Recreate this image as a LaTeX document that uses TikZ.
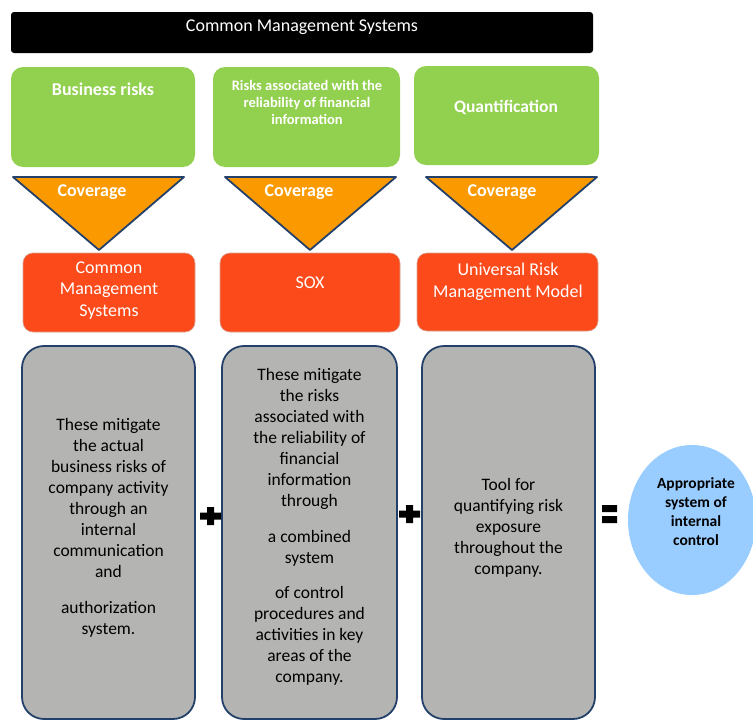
\documentclass[tikz,border=0pt]{standalone}
\usepackage{fontspec}
\setmainfont{Carlito}
\usepackage{xcolor}
\usepackage{tikz}
\definecolor{riskGreen}{HTML}{92D050}
\definecolor{riskOrange}{HTML}{FA9A00}
\definecolor{riskRed}{HTML}{FC4A1A}
\definecolor{riskRim}{HTML}{D9A293}
\definecolor{riskGray}{HTML}{B4B5B2}
\definecolor{riskNavy}{HTML}{23406A}
\definecolor{riskSky}{HTML}{99CCFF}
\newcommand{\fsz}[2]{\fontsize{#1}{#2}\selectfont}

\begin{document}
\begin{tikzpicture}[x=1pt,y=-1pt,
  greenbox/.style={fill=riskGreen, rounded corners=12pt},
  redbox/.style={fill=riskRed, draw=riskRim, line width=0.6pt, rounded corners=10pt},
  graybox/.style={fill=riskGray, draw=riskNavy, line width=1.8pt, rounded corners=22pt},
  funnel/.style={fill=riskOrange, draw=riskNavy, line width=1.8pt, line join=round},
  lbl/.style={align=center, inner sep=0pt},
  whitelbl/.style={lbl, text=white}]
\useasboundingbox (0,0) rectangle (753,720);

% title bar
\fill[black, rounded corners=3pt] (11,12) rectangle (593,53);
\node[whitelbl, font=\fsz{18}{22}] (title) at (302,27) {Common Management Systems};

% risk types
\fill[greenbox] (11,67) rectangle (195,167);
\fill[greenbox] (213,67) rectangle (400,167);
\fill[greenbox] (414,66) rectangle (599,165);
\node[whitelbl, font=\bfseries\fsz{18}{22}] (risk1) at (103,89) {Business risks};
\node[whitelbl, font=\bfseries\fsz{14.5}{17}] (risk2) at (307,102)
  {Risks associated with the\\reliability of financial\\information};
\node[whitelbl, font=\bfseries\fsz{17.5}{21}] (risk3) at (506,107) {Quantification};

% coverage funnels
\foreach \l/\r/\a/\t/\n in {13/184/99/92/1, 225/396/310/299/2, 426/597/512/502/3}{
  \draw[funnel] (\l,177) -- (\r,177) -- (\a,250) -- cycle;
  \node[whitelbl, font=\bfseries\fsz{18}{22}] (cov\n) at (\t,192) {Coverage};
}

% systems
\filldraw[redbox] (23,253) rectangle (195,332);
\filldraw[redbox] (220,253) rectangle (400,332);
\filldraw[redbox] (417,253) rectangle (598,331);
\node[whitelbl, font=\fsz{18}{21.5}] (sys1) at (109,290.5) {Common\\Management\\Systems};
\node[whitelbl, font=\fsz{18}{21.5}] (sys2) at (310,283) {SOX};
\node[whitelbl, font=\fsz{18}{21.5}] (sys3) at (508,282) {Universal Risk\\Management Model};

% descriptions
\filldraw[graybox] (22,346) rectangle (195,719);
\filldraw[graybox] (222,346) rectangle (397,719);
\filldraw[graybox] (422,346) rectangle (595,719);
\node[lbl, font=\fsz{17.5}{21}] (desc1) at (108.5,527.5)
  {These mitigate\\the actual\\business risks of\\company activity\\through an\\internal\\communication\\and\\[15pt]
   authorization\\system.};
\node[lbl, font=\fsz{17.5}{21}] (desc2) at (309.5,527)
  {These mitigate\\the risks\\associated with\\the reliability of\\financial\\information\\through\\[15pt]
   a combined\\system\\[14pt]
   of control\\procedures and\\activities in key\\areas of the\\company.};
\node[lbl, font=\fsz{17.5}{21}] (desc3) at (508.5,527.5)
  {Tool for\\quantifying risk\\exposure\\throughout the\\company.};

% plus and equals signs
\foreach \px/\py in {210.5/516, 409.5/514}{
  \fill[shift={(\px,\py)}] (-10.5,-3.5) rectangle (10.5,3.5) (-3.5,-9) rectangle (3.5,9);
}
\fill (602,505) rectangle (617,512) (602,516) rectangle (617,523);

% result
\fill[riskSky] (692,520) ellipse [x radius=64pt, y radius=75pt];
\node[lbl, font=\bfseries\fsz{15.5}{19}] (result) at (696,511.5)
  {Appropriate\\system of\\internal\\control};
\end{tikzpicture}
\end{document}
